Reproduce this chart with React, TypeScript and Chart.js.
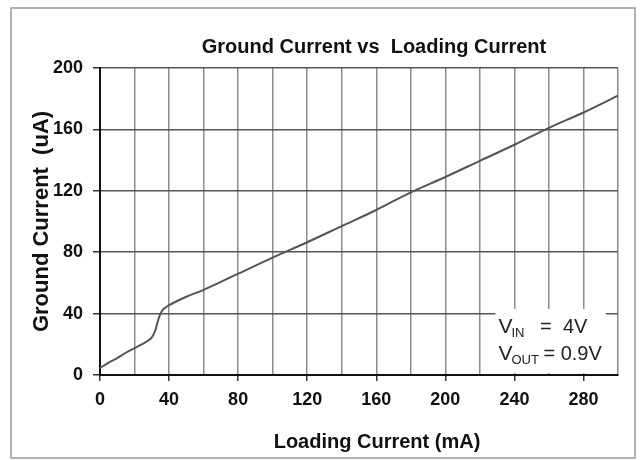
import React, { useEffect, useRef } from "react";
import { Chart, registerables } from "chart.js";

Chart.register(...registerables);

// ---- data ----
const loadingCurrent = [0, 5, 10, 15, 20, 25, 28, 30, 32, 34, 36, 38, 40, 50, 60, 80, 100, 120, 140, 160, 180, 200, 220, 240, 260, 280, 300];
const groundCurrent = [4.5, 8, 11, 14.5, 17.5, 20.5, 22.5, 24.5, 29, 37, 42, 44, 45.5, 51, 55.5, 66, 76.5, 86.5, 97, 107.5, 119, 129, 139.5, 150, 161, 171, 182];

const titleText = "Ground Current vs  Loading Current";
const xTitleText = "Loading Current (mA)";
const yTitleText = "Ground Current  (uA)";
// annotation: [main, subscript, rest]
const noteLines: [string, string, string][] = [
  ["V", "IN", "   =  4V"],
  ["V", "OUT", " = 0.9V"],
];

const FONT = "'Liberation Sans', Arial, sans-serif";

const decorPlugin = {
  id: "decor",
  beforeDraw(chart: any) {
    const ctx = chart.ctx;
    ctx.save();
    ctx.fillStyle = "#ffffff";
    ctx.fillRect(0, 0, chart.width, chart.height);
    ctx.strokeStyle = "#9a9a9a";
    ctx.lineWidth = 1.5;
    ctx.strokeRect(11, 8, 624, 450);
    ctx.restore();
  },
  afterDraw(chart: any) {
    const ctx = chart.ctx;
    const a = chart.chartArea;
    ctx.save();
    ctx.fillStyle = "#111";
    // title
    ctx.font = `bold 20px ${FONT}`;
    ctx.textAlign = "center";
    ctx.textBaseline = "alphabetic";
    ctx.fillText(titleText, a.left + (a.right - a.left) / 2 + 15, 53);
    // x title
    ctx.fillText(xTitleText, a.left + (a.right - a.left) / 2 + 18, 448);
    // y title
    ctx.save();
    ctx.translate(48, (a.top + a.bottom) / 2);
    ctx.rotate(-Math.PI / 2);
    ctx.font = `bold 22px ${FONT}`;
    ctx.textAlign = "center";
    ctx.fillText(yTitleText, 0, 0);
    ctx.restore();

    // annotation box
    const xs = chart.scales.x;
    const ys = chart.scales.y;
    const bx = xs.getPixelForValue(229);
    const bx2 = xs.getPixelForValue(293);
    const by = ys.getPixelForValue(43);
    ctx.fillStyle = "#ffffff";
    ctx.fillRect(bx, by, bx2 - bx, a.bottom - 2 - by);
    ctx.fillStyle = "#222";
    ctx.textAlign = "left";
    const baselines = [333, 360];
    noteLines.forEach((ln, i) => {
      let x = bx + 3;
      const yb = baselines[i];
      ctx.font = `21px ${FONT}`;
      ctx.fillText(ln[0], x, yb);
      x += ctx.measureText(ln[0]).width - 1;
      ctx.font = `13px ${FONT}`;
      ctx.fillText(ln[1], x, yb + 4);
      x += ctx.measureText(ln[1]).width - 1;
      ctx.font = `20px ${FONT}`;
      ctx.fillText(ln[2], x, yb);
    });
    ctx.restore();
  },
};

export default function App() {
  const ref = useRef<HTMLCanvasElement | null>(null);
  useEffect(() => {
    if (!ref.current) return;
    const chart = new Chart(ref.current, {
      type: "line",
      data: {
        datasets: [
          {
            data: loadingCurrent.map((x, i) => ({ x, y: groundCurrent[i] })),
            borderColor: "#555555",
            borderWidth: 2,
            pointRadius: 0,
            fill: false,
            cubicInterpolationMode: "monotone",
          },
        ],
      },
      options: {
        animation: false,
        responsive: false,
        devicePixelRatio: 1,
        layout: { padding: { left: 0, right: 26, top: 68, bottom: 0 } },
        plugins: { legend: { display: false }, title: { display: false }, tooltip: { enabled: false } },
        scales: {
          x: {
            type: "linear",
            min: 0,
            max: 300,
            afterFit: (s: any) => {
              s.height = 85;
            },
            ticks: {
              stepSize: 20,
              autoSkip: false,
              maxRotation: 0,
              padding: 8,
              color: "#111",
              font: { family: FONT, size: 18, weight: "bold" },
              callback: (v: any) => (Number(v) % 40 === 0 ? String(v) : ""),
            },
            grid: {
              color: "#8c8c8c",
              lineWidth: 1.5,
              tickLength: 6,
              tickColor: (c: any) => (c.tick && c.tick.value % 40 === 0 ? "#333" : "rgba(0,0,0,0)"),
            },
            border: { color: "#111", width: 2 },
          },
          y: {
            min: 0,
            max: 200,
            afterFit: (s: any) => {
              s.width = 100;
            },
            ticks: {
              stepSize: 40,
              padding: 10,
              color: "#111",
              font: { family: FONT, size: 18, weight: "bold" },
            },
            grid: {
              color: "#555",
              lineWidth: 1.5,
              tickLength: 7,
              tickColor: "#333",
            },
            border: { color: "#111", width: 2 },
          },
        },
      },
      plugins: [decorPlugin],
    } as any);
    return () => chart.destroy();
  }, []);
  return (
    <div style={{ position: "fixed", left: 0, top: 0, width: 644, height: 460 }}>
      <canvas ref={ref} width={644} height={460} style={{ width: 644, height: 460, display: "block" }} />
    </div>
  );
}
